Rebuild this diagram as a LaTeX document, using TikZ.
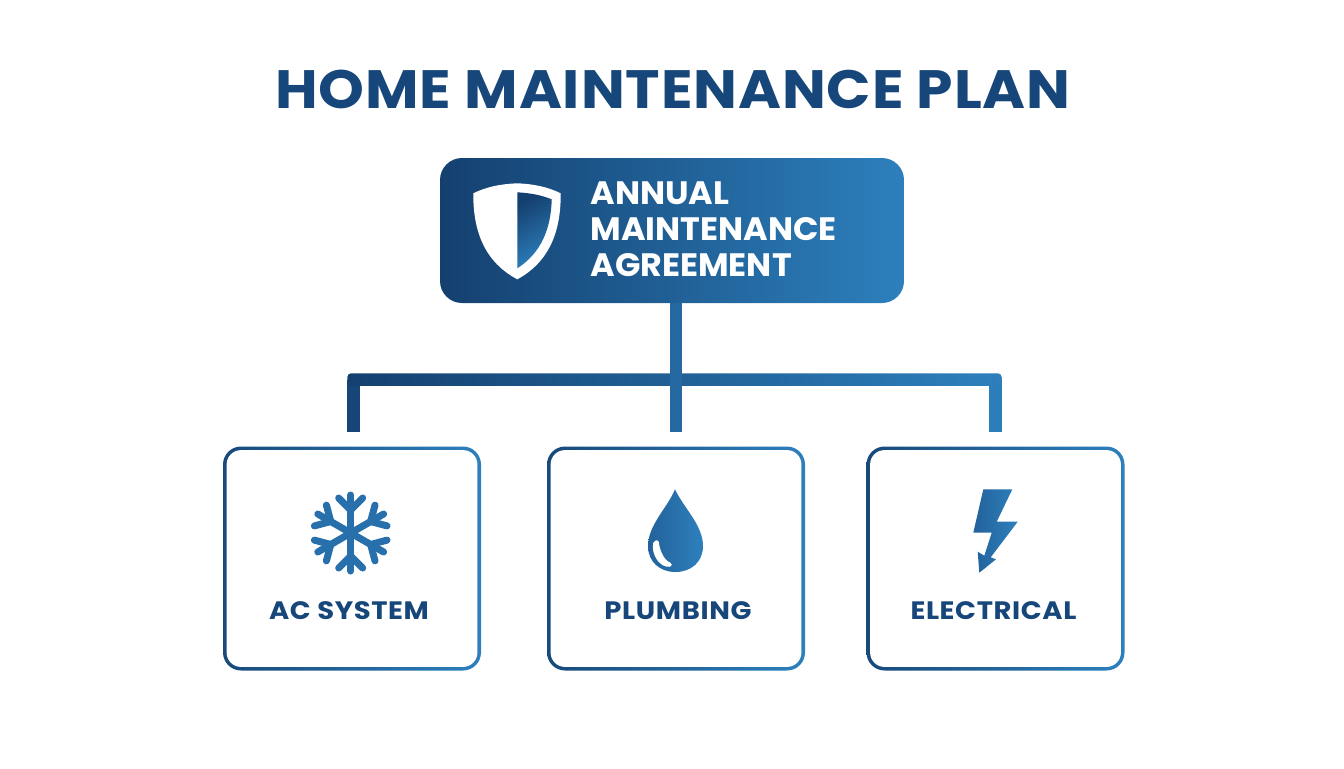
\documentclass[tikz,border=0pt]{standalone}
\usepackage{fontspec}
\setmainfont{Poppins}
\newfontfamily\titlefont[FakeStretch=1.08,LetterSpace=1.6]{Poppins}
\newfontfamily\headfont[FakeStretch=1.03]{Poppins}
\newfontfamily\cardfont[FakeStretch=1.09,LetterSpace=2.5]{Poppins}
\usetikzlibrary{calc}
\definecolor{navy}{HTML}{14406F}
\definecolor{sky}{HTML}{2D80BD}
\definecolor{midblue}{HTML}{2568A2}
\definecolor{inkblue}{HTML}{17477A}
\begin{document}
\begin{tikzpicture}[x=0.5pt,y=-0.5pt]
    \tikzstyle{headbox}=[rectangle,rounded corners=11pt,left color=navy,right color=sky,minimum width=232pt,minimum height=72.5pt,inner sep=0pt]
    \tikzstyle{cardbox}=[rectangle,rounded corners=9pt,left color=navy!85!sky,right color=sky,minimum width=129pt,minimum height=112pt,inner sep=0pt]
    \tikzstyle{cardinner}=[rectangle,rounded corners=7.2pt,fill=white,minimum width=125.4pt,minimum height=108.4pt,inner sep=0pt]
    \tikzstyle{cardlabel}=[font=\cardfont\bfseries\fontsize{12.6}{15}\selectfont,text=inkblue,inner sep=0pt]
    \tikzstyle{stem}=[line width=6.25pt,shorten >=7pt]
    \useasboundingbox (0,0) rectangle (1344,768);

    \node[font=\titlefont\bfseries\fontsize{27}{32}\selectfont,text=inkblue,inner sep=0pt] (title) at (673,89) {HOME MAINTENANCE PLAN};
    \node[headbox] (top) at (672,230.5) {};
    \node[anchor=west,align=left,text=white,inner sep=0pt,font=\headfont\bfseries\fontsize{16.2}{18}\selectfont] (toplabel) at (590,229.5) {ANNUAL\\MAINTENANCE\\AGREEMENT};

    \foreach \name/\x/\lx/\lab in {ac/352/349/AC SYSTEM, plumb/676/678/PLUMBING, elec/995.5/993.5/ELECTRICAL} {
        \node[cardbox] (\name) at (\x,558.5) {};
        \node[cardinner] (\name-in) at (\name) {};
        \node[cardlabel] (\name-label) at (\lx,611) {\lab};
    }

    % bus and stems
    \coordinate (bus-ac) at (353.5,379.5);
    \coordinate (bus-elec) at (995.5,379.5);
    \draw[stem,navy!90!sky] (bus-ac) -- (ac.north -| bus-ac);
    \draw[stem,sky!97!navy] (bus-elec) -- (elec.north -| bus-elec);
    \shade[left color=navy,right color=sky,rounded corners=2pt] ($(bus-ac)+(-6.25,-6.25)$) rectangle ($(bus-elec)+(6.25,6.25)$);
    \draw[stem,midblue] (plumb.north |- top.south) -- (plumb.north);

    % shield
    \fill[white] (517.3,183.3) .. controls (500,184) and (486,187) .. (473.3,193.3)
        .. controls (473,232) and (485,262) .. (517.3,279.3)
        .. controls (549,262) and (561,232) .. (560.7,193.3)
        .. controls (548,187) and (534,184) .. cycle;
    \shade[left color=navy,right color=sky,shading angle=30] (517.3,192.3) .. controls (530,193) and (541,195) .. (551.7,199.3)
        .. controls (551,229) and (541,253) .. (517.3,268.3) -- cycle;

    % snowflake
    \begin{scope}[shift={(350.7,533)},line width=3.5pt,line cap=round,midblue!65!sky]
        \foreach \ang in {0,60,...,300} {
            \draw[rotate=\ang] (0,0) -- (0,-38);
            \draw[rotate=\ang] (-12,-35) -- (0,-23) -- (12,-35);
        }
    \end{scope}

    % drop
    \shade[left color=midblue!85!navy,right color=sky] (675,489.3) .. controls (668,507) and (648,525) .. (648,546)
        .. controls (648,562) and (660,572) .. (675.5,572)
        .. controls (691,572) and (703,562) .. (703,546)
        .. controls (703,525) and (683,507) .. cycle;
    \fill[white,rounded corners=1pt] (653.5,541) .. controls (651,555) and (660,568) .. (672,566.5)
        -- (672,563) .. controls (665,561) and (660,552) .. (658.5,540) -- cycle;

    % bolt
    \shade[left color=midblue!85!navy,right color=sky] (983.3,489.3) -- (1012.3,489.3) -- (996.7,521.7) -- (1017.7,521.7)
        -- (990.7,557.3) -- (996,559.3) -- (979.3,572.7) -- (977.7,551.7) -- (984.3,555.7) -- (991.7,532.7) -- (973.3,532.7) -- cycle;
\end{tikzpicture}
\end{document}
